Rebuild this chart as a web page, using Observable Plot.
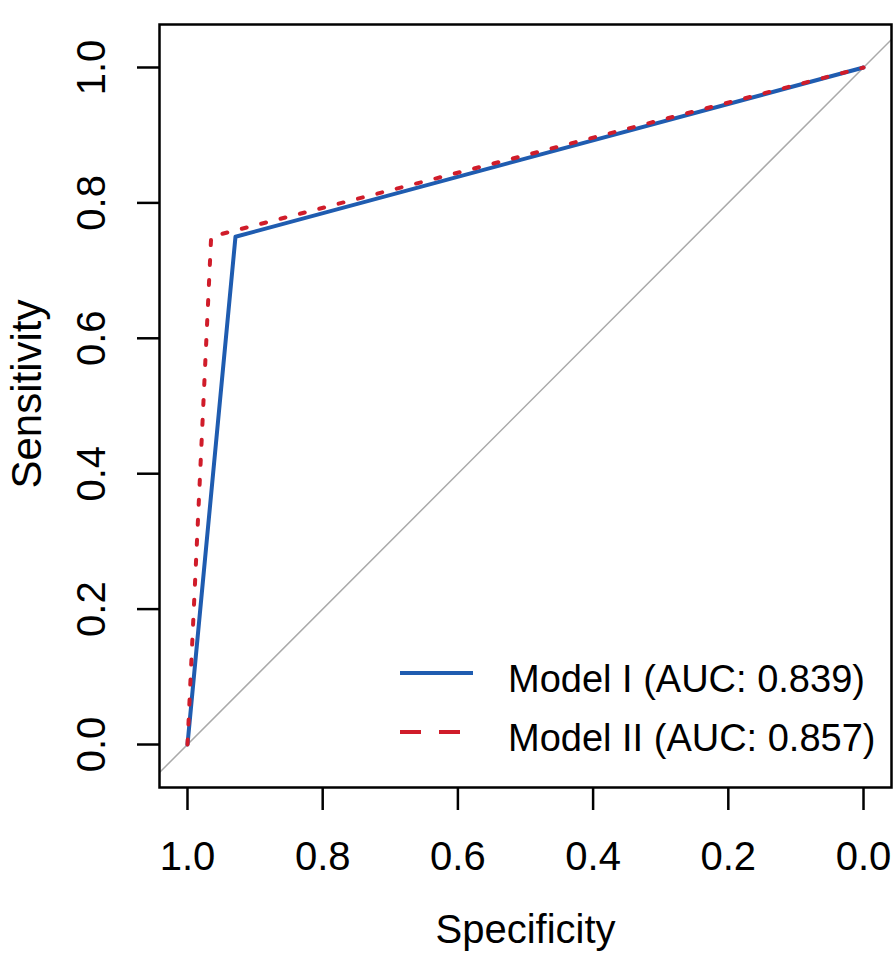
<!DOCTYPE html>
<html><head><meta charset="utf-8">
<script src="https://cdn.jsdelivr.net/npm/d3@7"></script>
<script src="https://cdn.jsdelivr.net/npm/@observablehq/plot@0.6"></script>
<style>body{margin:0;background:#fff;}</style>
</head><body><div id="chart"></div>
<script>
const model1Spec = [1, 0.929, 0];
const model1Sens = [0, 0.75, 1];
const model2Spec = [1, 0.965, 0];
const model2Sens = [0, 0.75, 1];
const diagSpec = [1.1, -0.1];
const diagSens = [-0.1, 1.1];
const xTicks = [1.0, 0.8, 0.6, 0.4, 0.2, 0.0];
const yTicks = [0.0, 0.2, 0.4, 0.6, 0.8, 1.0];
const legendLabels = ["Model I (AUC: 0.839)", "Model II (AUC: 0.857)"];
const seriesColors = ["#1f5cb0", "#d01c2a"];

const model1 = model1Spec.map((s, i) => ({spec: s, sens: model1Sens[i]}));
const model2 = model2Spec.map((s, i) => ({spec: s, sens: model2Sens[i]}));
const diag = diagSpec.map((s, i) => ({spec: s, sens: diagSens[i]}));
const fmt = d3.format(".1f");

const chart = Plot.plot({
  width: 893, height: 953,
  marginLeft: 159, marginRight: 2, marginTop: 24, marginBottom: 166,
  x: {domain: [1.0414, -0.0414]},
  y: {domain: [-0.0635, 1.0635]},
  style: {fontFamily: "'Liberation Sans', Arial, sans-serif", fontSize: "40px", background: "white", color: "black"},
  marks: [
    Plot.line(diag, {x: "spec", y: "sens", stroke: "#aaaaaa", strokeWidth: 1.5, clip: true}),
    Plot.line(model1, {x: "spec", y: "sens", stroke: seriesColors[0], strokeWidth: 4}),
    Plot.line(model2, {x: "spec", y: "sens", stroke: seriesColors[1], strokeWidth: 4, strokeDasharray: "5,15"}),
    Plot.frame({stroke: "black", strokeWidth: 2.5}),
    Plot.axisX({ticks: xTicks, tickSize: 23, tickPadding: 31, tickFormat: fmt, label: null, strokeWidth: 2.5}),
    Plot.axisY({ticks: yTicks, tickSize: 22, tickFormat: () => "", label: null, strokeWidth: 2.5}),
    Plot.text(yTicks, {y: d => d, text: d => fmt(d), frameAnchor: "left", dx: -67, rotate: -90, lineAnchor: "middle", textAnchor: "middle"}),
    Plot.text(["Specificity"], {text: d => d, frameAnchor: "bottom", dy: 143, lineAnchor: "middle", textAnchor: "middle", fontSize: 40}),
    Plot.text(["Sensitivity"], {text: d => d, frameAnchor: "left", dx: -132, dy: -12, rotate: -90, lineAnchor: "middle", textAnchor: "middle", fontSize: 42})
  ]
});
document.getElementById("chart").appendChild(chart);

// legend inside plot area
const svg = d3.select(chart);
const lg = svg.append("g")
  .attr("font-family", "'Liberation Sans', Arial, sans-serif")
  .attr("font-size", 38)
  .attr("text-anchor", "start");
legendLabels.forEach((lab, i) => {
  const yLine = 673 + i * 59;
  lg.append("line").attr("x1", 400).attr("x2", 473).attr("y1", yLine).attr("y2", yLine)
    .attr("stroke", seriesColors[i]).attr("stroke-width", 4)
    .attr("stroke-dasharray", i === 1 ? "21,18" : null);
  lg.append("text").attr("x", 508).attr("y", 692 + i * 59).attr("fill", "black")
    .attr("text-anchor", "start").text(lab);
});
</script>
</body></html>
